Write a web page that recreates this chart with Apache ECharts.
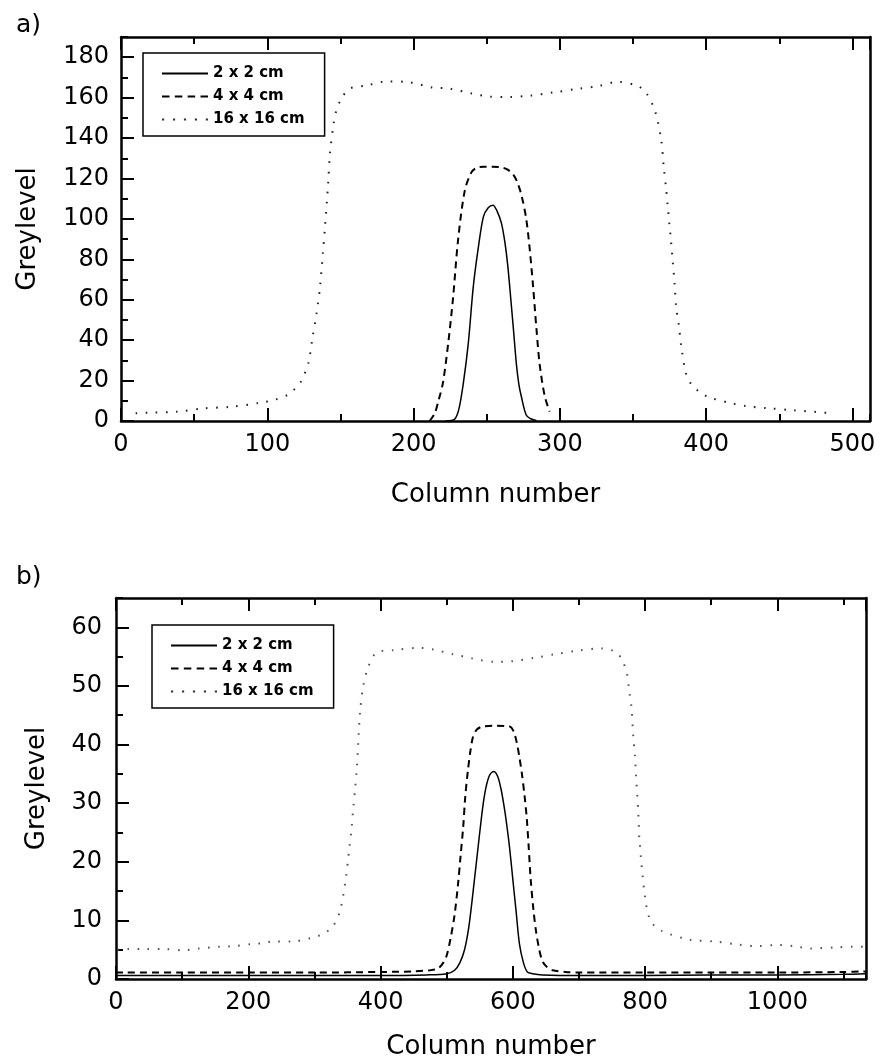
<!DOCTYPE html>
<html><head><meta charset="utf-8">
<script src="https://cdn.jsdelivr.net/npm/echarts@6/dist/echarts.min.js"></script>
<style>html,body{margin:0;padding:0;background:#fff}#c{width:880px;height:1062px}</style>
</head><body><div id="c"></div>
<script>
const FONT = 'DejaVu Sans';
const NAMES = ['2 x 2 cm', '4 x 4 cm', '16 x 16 cm'];
const PANEL_LABELS = ['a)', 'b)'];
const X_TITLE = 'Column number';
const Y_TITLE = 'Greylevel';

// ---- panel a ----
const A_X_MAX = 512, A_X_MAJOR = 100, A_X_MINOR = 50;
const A_Y_MAX = 190, A_Y_MAJOR = 20, A_Y_MINOR = 10;

const aSolidX = [222, 228, 231, 234, 237.4, 240.8, 244.3, 247.7, 251, 254.3, 257, 260, 262.5, 264.5, 266.5, 268.3, 270.3, 272, 273.7, 277, 280.5, 284];
const aSolidY = [0, 0.8, 6, 18.6, 38.4, 66.4, 86, 101, 105.5, 106.8, 104, 98, 88, 76, 60, 45, 28, 18, 12, 3, 1, 0.3];

const aDashX = [211, 214.5, 217, 220, 223.6, 227, 230.4, 235, 239.5, 243, 248, 254, 260, 264, 268, 271, 274, 277, 279.4, 281.7, 284, 286.2, 289.6, 293];
const aDashY = [0, 3.8, 10, 18.6, 38, 61, 89.5, 114, 123, 125.3, 125.8, 125.8, 125.5, 124.5, 122, 118, 111, 100, 85, 66.5, 45.5, 28, 12.5, 4.6];

const aDotX = [10, 22, 38, 57, 75, 95, 105, 114, 119, 123, 128, 131, 133.6, 136, 138, 139.3, 141.6, 142.8, 145, 147, 150.7, 156.4, 167.8, 181.5, 195, 213, 224.7, 240, 252, 265, 280, 295, 313.5, 326, 339.7, 353.4, 359, 365, 369.2, 371, 372.6, 373.7, 374.9, 376, 377.2, 378.4, 379.5, 381.3, 383, 386.4, 390, 395.6, 402.5, 416, 427, 441, 460, 487];
const aDotY = [3.8, 4.2, 4.6, 6.3, 7, 9, 10.5, 12.9, 16, 19.5, 28.5, 41.7, 53, 66, 83, 94.5, 117.5, 132, 145.5, 153, 159.6, 164.5, 166, 168, 167.8, 165, 164.5, 162, 160.5, 160.3, 161, 162.5, 164.5, 165.7, 167.8, 165.7, 162.4, 153.5, 139.6, 125.7, 115.2, 106.5, 97, 89, 78.6, 68, 56, 47.5, 36.8, 23, 18, 14.3, 11.6, 9, 7.4, 6.4, 5.3, 3.8];

// ---- panel b ----
const B_X_MAX = 1134, B_X_MAJOR = 200, B_X_MINOR = 100;
const B_Y_MAX = 65, B_Y_MAJOR = 10, B_Y_MINOR = 5;

const bSolidX = [0, 100, 200, 300, 400, 470, 500, 512, 520, 527, 533, 538, 543, 548, 552, 556, 560, 565, 571, 577, 582, 586, 590, 595, 600, 605, 610, 616, 622, 630, 645, 700, 800, 900, 1000, 1100, 1134];
const bSolidY = [0.6, 0.6, 0.6, 0.6, 0.6, 0.7, 0.9, 1.5, 2.8, 5, 8.5, 13, 18, 23, 27, 30.5, 33, 34.8, 35.4, 34.6, 32.5, 30, 27, 22.5, 17, 11.5, 6, 2.8, 1.2, 0.9, 0.7, 0.6, 0.6, 0.7, 0.7, 0.8, 0.9];

const bDashX = [0, 100, 200, 300, 400, 450, 475, 487, 495, 500, 506, 512, 517, 521, 525, 528, 532, 536, 540, 546, 555, 575, 595, 601, 606, 610, 613.5, 618, 621, 624, 627, 631, 635, 640, 645, 652, 660, 680, 700, 800, 900, 1000, 1100, 1134];
const bDashY = [1.1, 1.1, 1.1, 1.1, 1.2, 1.3, 1.5, 1.8, 2.8, 4, 7, 11, 16, 21, 26, 31, 35.5, 39, 41.4, 42.6, 43.1, 43.2, 43.1, 42.3, 40.3, 37.8, 35.2, 31, 27.5, 22.5, 17, 12, 8.2, 5, 3, 2, 1.5, 1.2, 1.1, 1.1, 1.1, 1.1, 1.2, 1.3];

const bDotX = [2, 18.6, 45, 71.5, 101.8, 124.4, 157, 177, 207.6, 220.3, 237.8, 266.7, 295, 313.3, 328, 338.7, 347, 353, 356.4, 358.8, 361.4, 363.9, 366.3, 368.9, 373.9, 381.5, 394.2, 419.3, 459.6, 479.7, 510, 537.8, 550.4, 575, 598.3, 633.5, 663.7, 696.5, 734.3, 757, 766, 772.2, 776, 779.7, 782.1, 784.7, 786.2, 789.7, 791.5, 800, 808.4, 825.4, 867.7, 905.7, 940, 966.1, 1001.4, 1026.6, 1049.3, 1089.7, 1114.8, 1130];
const bDotY = [5.0, 5.1, 5.1, 5.1, 4.9, 5.2, 5.5, 5.6, 6.0, 6.1, 6.4, 6.4, 7.0, 7.7, 9.0, 11.6, 16.8, 22.5, 26, 29.2, 32.3, 35.7, 40.3, 45.4, 50, 53.3, 55.7, 56.1, 56.5, 56.2, 55.4, 54.7, 54.4, 54.1, 54.2, 54.8, 55.4, 56, 56.4, 55.7, 54.2, 52.3, 49.1, 46, 41.4, 38, 34.9, 28.3, 23.7, 13.9, 9.9, 8.2, 6.7, 6.4, 5.9, 5.6, 5.8, 5.6, 5.2, 5.4, 5.5, 5.5];

const zip = (xs, ys) => xs.map((x, i) => [x, ys[i]]);

// ---- layout ----
const RECT_A = {left: 121, top: 37, width: 749, height: 384};
const RECT_B = {left: 116, top: 598, width: 750, height: 381};

function grid(r) { return Object.assign({containLabel: false, outerBoundsMode: 'none'}, r); }
const plain = v => String(v);

function xAx(g, pos, max, interval, tickLen, line, label, name, nameGap) {
  return {
    type: 'value', gridIndex: g, position: pos, min: 0, max: max, interval: interval,
    splitLine: {show: false}, minorTick: {show: false},
    axisLine: {show: line, onZero: false, lineStyle: {color: '#000', width: 2.5}},
    axisTick: {show: true, inside: true, length: tickLen, lineStyle: {color: '#000', width: 2}},
    axisLabel: {show: label, formatter: plain, showMaxLabel: false, showMinLabel: true, margin: 12, color: '#000', fontSize: 24, fontFamily: FONT},
    name: name || '', nameLocation: 'middle', nameGap: nameGap || 0,
    nameTextStyle: {color: '#000', fontSize: 26, fontFamily: FONT}
  };
}
function yAx(g, pos, max, interval, tickLen, line, label, ticks, name, nameGap, margin) {
  return {
    type: 'value', gridIndex: g, position: pos, min: 0, max: max, interval: interval,
    splitLine: {show: false}, minorTick: {show: false},
    axisLine: {show: line, onZero: false, lineStyle: {color: '#000', width: 2.5}},
    axisTick: {show: ticks, inside: true, length: tickLen, lineStyle: {color: '#000', width: 2}},
    axisLabel: {show: label, formatter: plain, showMaxLabel: false, showMinLabel: true, margin: margin || 12, color: '#000', fontSize: 24, fontFamily: FONT},
    name: name || '', nameLocation: 'middle', nameGap: nameGap || 0,
    nameTextStyle: {color: '#000', fontSize: 26, fontFamily: FONT}
  };
}

const ICON_SOLID = 'path://M0,0H46V2H0Z';
const ICON_DASH = 'path://M0,0H7V2H0Z M12,0H19V2H12Z M24,0H31V2H24Z M36,0H43V2H36Z';
const ICON_DOT = 'path://M0,0H2V2H0Z M10,0H12V2H10Z M20,0H22V2H20Z M30,0H32V2H30Z M40,0H42V2H40Z';

function legend(left, top) {
  return {
    left: left, top: top, orient: 'vertical', padding: [13, 20, 9, 19], itemGap: 8,
    itemWidth: 46, itemHeight: 2, itemTextGap: 5, symbolKeepAspect: false,
    borderColor: '#000', borderWidth: 1.5, backgroundColor: '#fff', selectedMode: false,
    textStyle: {color: '#000', fontSize: 15, fontWeight: 'bold', fontFamily: FONT},
    data: [
      {name: NAMES[0], icon: ICON_SOLID, itemStyle: {color: '#000'}},
      {name: NAMES[1], icon: ICON_DASH, itemStyle: {color: '#000'}},
      {name: NAMES[2], icon: ICON_DOT, itemStyle: {color: '#333'}}
    ]
  };
}

const STYLES = [
  {color: '#000', width: 1.5, type: 'solid'},
  {color: '#000', width: 2, type: [7, 5]},
  {color: '#222', width: 2, type: [1.6, 8.5]}
];

function line(name, data, style, xi, yi) {
  return {
    type: 'line', name: name, data: data, xAxisIndex: xi, yAxisIndex: yi,
    symbol: 'none', showSymbol: false, smooth: 0.3, animation: false, silent: true,
    color: style.color, itemStyle: {color: style.color}, lineStyle: style, z: 3
  };
}

const PANEL_STYLE = {fontSize: 25, fontWeight: 'normal', fontFamily: FONT, color: '#000'};

const chart = echarts.init(document.getElementById('c'), null, {renderer: 'canvas'});
chart.setOption({
  backgroundColor: '#fff',
  animation: false,
  title: [
    {text: PANEL_LABELS[0], left: 16, top: 13, padding: 0, textStyle: PANEL_STYLE},
    {text: PANEL_LABELS[1], left: 16, top: 565, padding: 0, textStyle: PANEL_STYLE}
  ],
  grid: [grid(RECT_A), grid(RECT_A), grid(RECT_A), grid(RECT_A), grid(RECT_B), grid(RECT_B), grid(RECT_B), grid(RECT_B)],
  xAxis: [
    xAx(0, 'bottom', A_X_MAX, A_X_MAJOR, 13, true, true, X_TITLE, 61),
    xAx(1, 'bottom', A_X_MAX, A_X_MINOR, 7, false, false),
    xAx(2, 'top', A_X_MAX, A_X_MAJOR, 13, true, false),
    xAx(3, 'top', A_X_MAX, A_X_MINOR, 7, false, false),
    xAx(4, 'bottom', B_X_MAX, B_X_MAJOR, 13, true, true, X_TITLE, 55),
    xAx(5, 'bottom', B_X_MAX, B_X_MINOR, 7, false, false),
    xAx(6, 'top', B_X_MAX, B_X_MAJOR, 13, true, false),
    xAx(7, 'top', B_X_MAX, B_X_MINOR, 7, false, false)
  ],
  yAxis: [
    yAx(0, 'left', A_Y_MAX, A_Y_MAJOR, 13, true, true, true, Y_TITLE, 80, 12),
    yAx(1, 'left', A_Y_MAX, A_Y_MINOR, 7, false, false, true),
    yAx(2, 'right', A_Y_MAX, A_Y_MAJOR, 0, true, false, false),
    Object.assign(yAx(3, 'right', A_Y_MAX, A_Y_MAJOR, 0, false, false, false), {show: false}),
    yAx(4, 'left', B_Y_MAX, B_Y_MAJOR, 13, true, true, true, Y_TITLE, 66, 14),
    yAx(5, 'left', B_Y_MAX, B_Y_MINOR, 7, false, false, true),
    yAx(6, 'right', B_Y_MAX, B_Y_MAJOR, 0, true, false, false),
    Object.assign(yAx(7, 'right', B_Y_MAX, B_Y_MAJOR, 0, false, false, false), {show: false})
  ],
  legend: [legend(143, 53), legend(152, 625)],
  series: [
    line(NAMES[0], zip(aSolidX, aSolidY), STYLES[0], 0, 0),
    line(NAMES[1], zip(aDashX, aDashY), STYLES[1], 0, 0),
    line(NAMES[2], zip(aDotX, aDotY), STYLES[2], 0, 0),
    line(NAMES[0], zip(bSolidX, bSolidY), STYLES[0], 4, 4),
    line(NAMES[1], zip(bDashX, bDashY), STYLES[1], 4, 4),
    line(NAMES[2], zip(bDotX, bDotY), Object.assign({}, STYLES[2], {color: '#555'}), 4, 4)
  ]
});
</script>
</body></html>
